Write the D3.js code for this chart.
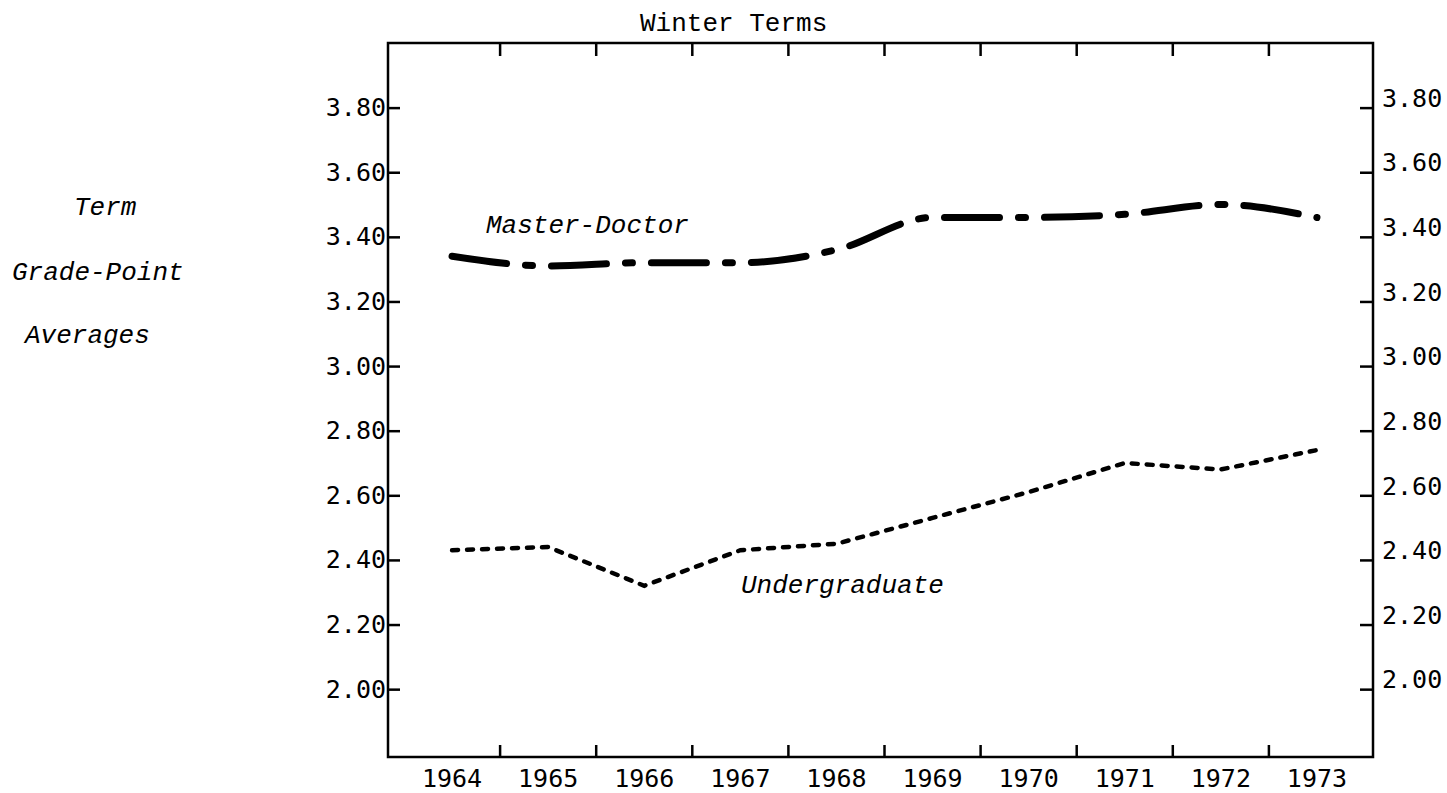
<!DOCTYPE html>
<html>
  <head>
    <meta charset="UTF-8">
    <title>Winter Terms - grade point averages</title>
    <script type="text/javascript" src="https://cdn.jsdelivr.net/npm/d3@7/dist/d3.min.js"></script>
    <style>
      body { margin: 0; background: #fff; }
      svg { display: block; }
      .tick-label { font-family: "DejaVu Sans Mono", monospace; font-size: 25px; fill: #000; }
      .type { font-family: "Liberation Mono", "Courier New", monospace; font-size: 26px; fill: #000; }
      .type-it { font-family: "Liberation Mono", "Courier New", monospace; font-size: 26px; font-style: italic; fill: #000; }
    </style>
  </head>
  <body>
    <svg width="1447" height="793"></svg>
    <script>
      var years = [1964, 1965, 1966, 1967, 1968, 1969, 1970, 1971, 1972, 1973];
      var masterDoctor = [3.34, 3.31, 3.32, 3.32, 3.36, 3.46, 3.46, 3.47, 3.50, 3.46];
      var undergraduate = [2.43, 2.44, 2.32, 2.43, 2.45, 2.53, 2.61, 2.70, 2.68, 2.74];
      var yTicks = [2.0, 2.2, 2.4, 2.6, 2.8, 3.0, 3.2, 3.4, 3.6, 3.8];
      var yLabelLines = ["Term", "Grade-Point", "Averages"];

      var box = {left: 388, right: 1373, top: 43, bottom: 757};
      var svg = d3.select("svg");

      var xScale = d3.scaleBand()
        .domain(years)
        .range([404, 1365]);
      var yScale = d3.scaleLinear()
        .domain([1.79, 4.0])
        .range([box.bottom, box.top]);
      var xMid = function(d) { return xScale(d) + xScale.bandwidth() / 2; };

      // frame
      svg.append("rect")
        .attr("x", box.left)
        .attr("y", box.top)
        .attr("width", box.right - box.left)
        .attr("height", box.bottom - box.top)
        .attr("fill", "none")
        .attr("stroke", "#000")
        .attr("stroke-width", 2.5);

      // left axis, ticks pointing in
      var gl = svg.append("g")
        .attr("transform", "translate(" + box.left + ",0)")
        .call(d3.axisLeft(yScale).tickValues(yTicks).tickSizeInner(-12).tickSizeOuter(0).tickPadding(2)
          .tickFormat(d3.format(".2f")));
      // right axis
      var gr = svg.append("g")
        .attr("transform", "translate(" + box.right + ",0)")
        .call(d3.axisRight(yScale).tickValues(yTicks).tickSizeInner(-13).tickSizeOuter(0).tickPadding(9)
          .tickFormat(d3.format(".2f")));
      gr.selectAll("text").attr("dy", "-0.05em");

      // bottom axis: year labels in the middle of each band
      var gb = svg.append("g")
        .attr("transform", "translate(0," + box.bottom + ")")
        .call(d3.axisBottom(xScale).tickSize(0).tickPadding(12));

      [gl, gr, gb].forEach(function(g) {
        g.select(".domain").remove();
        g.selectAll("line").attr("stroke", "#000").attr("stroke-width", 2.5);
        g.selectAll("text").attr("class", "tick-label").attr("font-family", null).attr("font-size", null);
      });
      gb.selectAll("text").attr("dy", "0.7em");

      // year ticks on band boundaries, top and bottom
      var bounds = years.slice(1);
      svg.append("g").selectAll("line.tb")
        .data(bounds)
        .enter()
        .append("line")
        .attr("x1", function(d) { return xScale(d); })
        .attr("x2", function(d) { return xScale(d); })
        .attr("y1", box.bottom)
        .attr("y2", box.bottom - 12)
        .attr("stroke", "#000")
        .attr("stroke-width", 2.5);
      svg.append("g").selectAll("line.tt")
        .data(bounds)
        .enter()
        .append("line")
        .attr("x1", function(d) { return xScale(d); })
        .attr("x2", function(d) { return xScale(d); })
        .attr("y1", box.top)
        .attr("y2", box.top + 13)
        .attr("stroke", "#000")
        .attr("stroke-width", 2.5);

      // lines
      var mdLine = d3.line()
        .x(function(d, i) { return xMid(years[i]); })
        .y(function(d) { return yScale(d); })
        .curve(d3.curveMonotoneX);
      var ugLine = d3.line()
        .x(function(d, i) { return xMid(years[i]); })
        .y(function(d) { return yScale(d); });

      svg.append("path")
        .datum(masterDoctor)
        .attr("d", mdLine)
        .attr("fill", "none")
        .attr("stroke", "#000")
        .attr("stroke-width", 7)
        .attr("stroke-linecap", "round")
        .attr("stroke-dasharray", "55,19,7,19");

      svg.append("path")
        .datum(undergraduate)
        .attr("d", ugLine)
        .attr("fill", "none")
        .attr("stroke", "#000")
        .attr("stroke-width", 4.5)
        .attr("stroke-linecap", "round")
        .attr("stroke-dasharray", "6,9");

      // texts
      svg.append("text").attr("class", "type").attr("x", 640).attr("y", 31).text("Winter Terms");
      svg.append("text").attr("class", "type-it").attr("x", 486).attr("y", 233).text("Master-Doctor");
      svg.append("text").attr("class", "type-it").attr("x", 741).attr("y", 593).text("Undergraduate");

      var labelPos = [[74, 215], [12, 280], [25, 343]];
      svg.selectAll("text.ylab")
        .data(yLabelLines)
        .enter()
        .append("text")
        .attr("class", "type-it ylab")
        .attr("x", function(d, i) { return labelPos[i][0]; })
        .attr("y", function(d, i) { return labelPos[i][1]; })
        .text(function(d) { return d; });
    </script>
  </body>
</html>
